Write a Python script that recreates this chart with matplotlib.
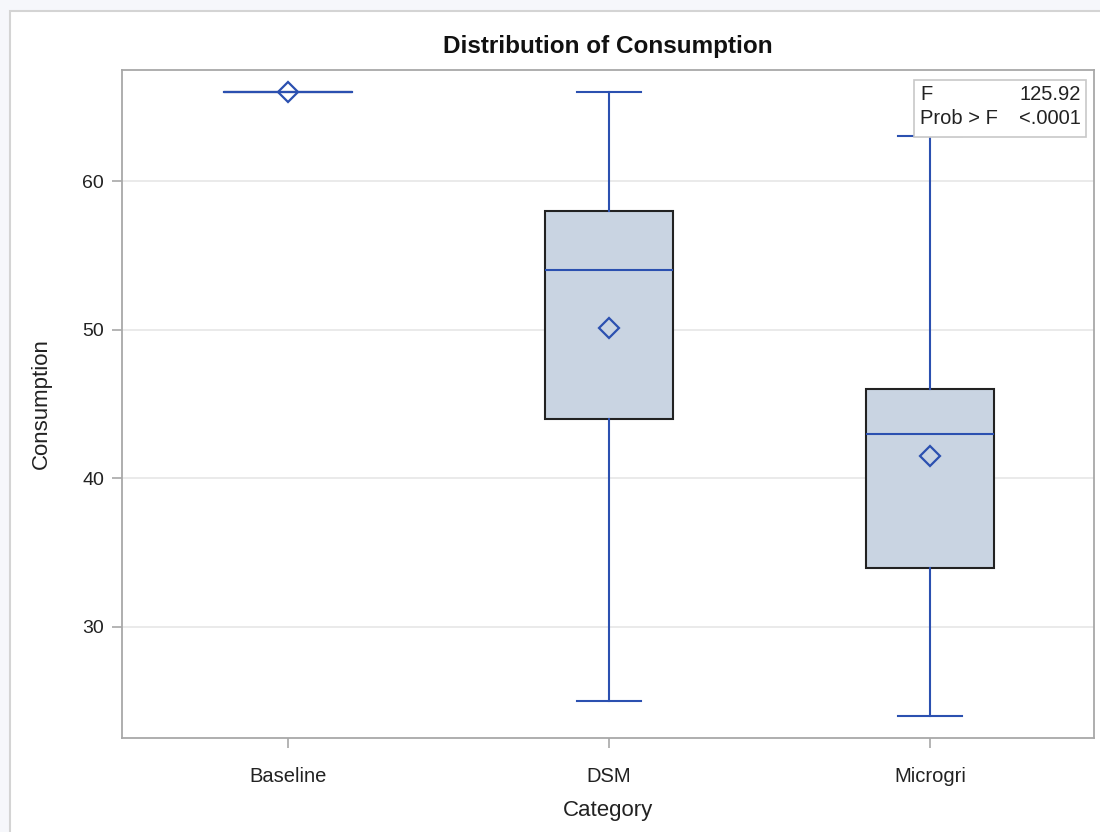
import matplotlib
matplotlib.use("Agg")
import matplotlib.pyplot as plt
from matplotlib.patches import Rectangle

plt.rcParams["font.family"] = ["Liberation Sans", "DejaVu Sans"]

# Box plot summary values
categories = ["Baseline", "DSM", "Microgri"]
whisker_low = [66, 25, 24]
q1 = [66, 44, 34]
medians = [66, 54, 43]
q3 = [66, 58, 46]
whisker_high = [66, 66, 63]
means = [66, 50.1, 41.5]

f_value = "125.92"
prob_f = "<.0001"

blue = "#2b50b0"
fill = "#c9d4e2"

fig = plt.figure(figsize=(11, 8.32), dpi=100)
fig.patch.set_facecolor("#f6f7fb")

# white panel behind the graph
panel = Rectangle((10 / 1100, -0.1), 1.2, (832 - 11) / 832 + 0.1,
                  transform=fig.transFigure, facecolor="white",
                  edgecolor="#d4d4d4", linewidth=1.5, zorder=-10)
fig.patches.append(panel)

ax = fig.add_axes([122 / 1100, 1 - 738 / 832, (1094 - 122) / 1100, (738 - 70) / 832])

stats = []
for i, name in enumerate(categories):
    stats.append({
        "label": name,
        "whislo": whisker_low[i],
        "q1": q1[i],
        "med": medians[i],
        "q3": q3[i],
        "whishi": whisker_high[i],
        "mean": means[i],
        "fliers": [],
    })

positions = list(range(len(categories)))
ax.bxp(stats, positions=positions, widths=0.4, patch_artist=True,
       showmeans=True, showfliers=False,
       boxprops=dict(facecolor=fill, edgecolor="#222222", linewidth=1.5),
       whiskerprops=dict(color=blue, linewidth=1.5),
       capprops=dict(color=blue, linewidth=1.5),
       medianprops=dict(color=blue, linewidth=1.5),
       meanprops=dict(marker="D", markerfacecolor="none",
                      markeredgecolor=blue, markersize=10, markeredgewidth=1.6),
       capwidths=[0.4, 0.2, 0.2])

ax.set_xlim(-0.517, 2.511)
ax.set_ylim(22.53, 67.47)
ax.set_yticks([30, 40, 50, 60])
ax.yaxis.grid(True, color="#e6e6e6", linewidth=1.2)
ax.set_axisbelow(True)

for s in ax.spines.values():
    s.set_color("#a8a8a8")
    s.set_linewidth(1.3)
ax.tick_params(colors="#a8a8a8", labelcolor="#222222", labelsize=14, length=7, width=1.2)
ax.tick_params(axis="x", labelsize=14.5, pad=14)
ax.tick_params(axis="y", pad=6)

ax.set_xlabel("Category", fontsize=16, color="#222222", labelpad=10)
ax.set_ylabel("Consumption", fontsize=16, color="#222222", labelpad=22)
ax.set_title("Distribution of Consumption", fontsize=17.5, fontweight="bold",
             color="#111111", pad=12)

# F statistic inset
box = Rectangle((914 / 1100, 1 - 137 / 832), (1086 - 914) / 1100, (137 - 80) / 832,
                transform=fig.transFigure, facecolor="white",
                edgecolor="#c8c8c8", linewidth=1.2, zorder=5)
fig.patches.append(box)
for label, value, ypix in [("F", f_value, 94), ("Prob > F", prob_f, 119)]:
    fig.text(920 / 1100, 1 - ypix / 832, label, fontsize=14.5, va="center", ha="left",
             color="#222222", zorder=10)
    fig.text(1081 / 1100, 1 - ypix / 832, value, fontsize=14.5, va="center", ha="right",
             color="#222222", zorder=10)

fig.savefig("out.png", dpi=100)
